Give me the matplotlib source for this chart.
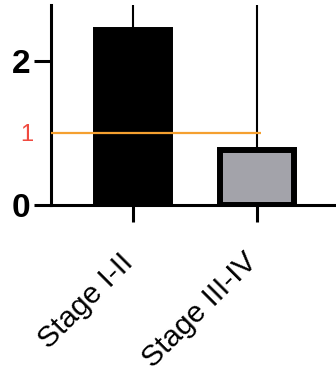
import numpy as np
import matplotlib.pyplot as plt
from matplotlib.transforms import ScaledTranslation

plt.rcParams['font.family'] = ['Liberation Sans', 'DejaVu Sans']

# Data
stages = ['Stage I-II', 'Stage III-IV']
values = [2.43, 0.76]
err_up = [1.0, 2.5]   # upper error, runs out of the cropped frame
colors = ['#000000', '#a3a3aa']
ref_value = 1

fig = plt.figure(figsize=(3.36, 3.72), dpi=100)
ax = fig.add_axes([0.152, 0.449, 0.848, 0.538])

x = np.arange(len(stages))
ax.bar(x, values, width=0.6, color=colors, edgecolor='black', linewidth=4.3, zorder=2)
ax.errorbar(x, values, yerr=[np.zeros(len(values)), err_up], fmt='none',
            ecolor='black', elinewidth=1.5, capsize=0, zorder=3)

# reference line at 1
ax.hlines(ref_value, -0.7, 1.03, color='#f5a030', linewidth=1.6, zorder=4)

ax.set_xlim(-0.661, 1.637)
ax.set_ylim(0, 2.78)

ax.set_xticks(x)
ax.set_xticklabels(stages, rotation=45, ha='right', rotation_mode='anchor', fontsize=21.5)
ax.set_yticks([0, 2])
ax.set_yticklabels(['0', '2'], fontsize=24, fontweight='bold')
ax.set_yticks([ref_value], minor=True)
ax.set_yticklabels(['1'], minor=True)

ax.tick_params(axis='both', which='major', length=12, width=2.2, pad=3)
ax.tick_params(axis='x', which='major', pad=19)
ax.tick_params(axis='y', which='minor', length=0, pad=13, labelsize=17,
               labelcolor='#f04a40')

# nudge rotated labels left so their ends sit under the ticks
shift = ScaledTranslation(-14 / 100, 0, fig.dpi_scale_trans)
for lbl in ax.get_xticklabels():
    lbl.set_transform(lbl.get_transform() + shift)

for s in ['top', 'right']:
    ax.spines[s].set_visible(False)
for s in ['left', 'bottom']:
    ax.spines[s].set_linewidth(2.2)

fig.savefig('out.png', dpi=100)
